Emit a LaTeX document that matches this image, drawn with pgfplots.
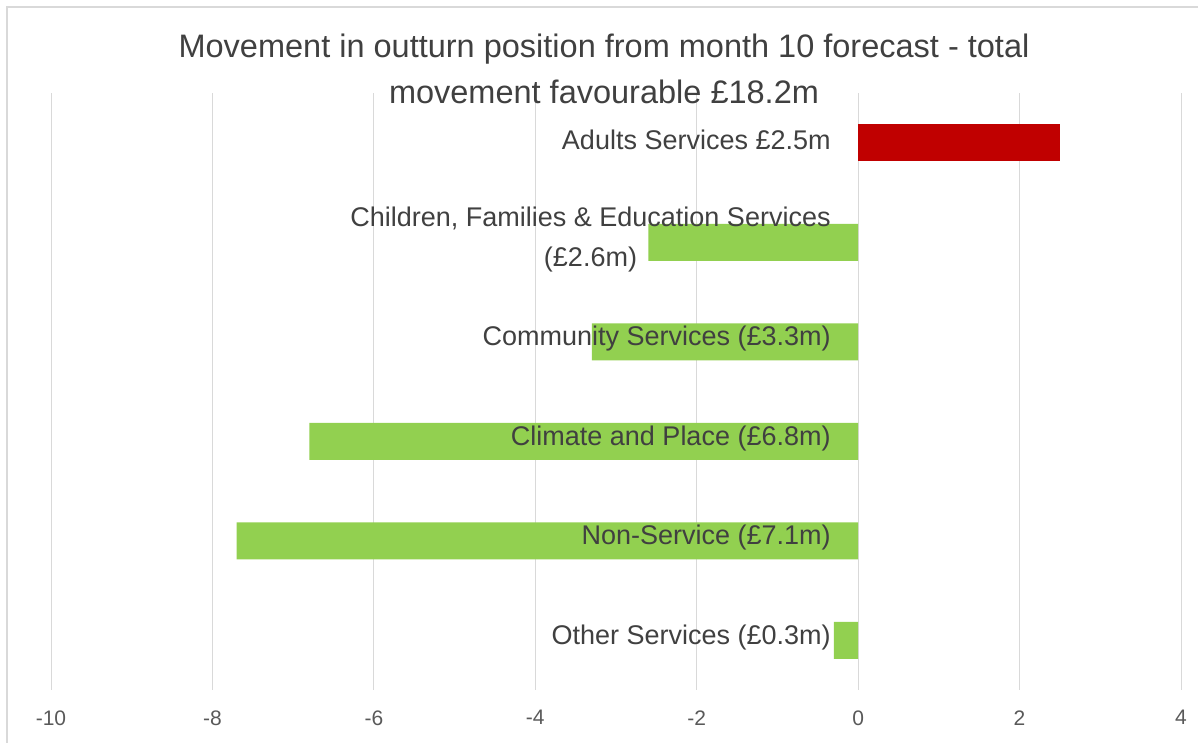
\documentclass[border=0pt]{standalone}
\usepackage{pgfplots}
\pgfplotsset{compat=1.18}
\usepackage{fontspec}
\setmainfont{Liberation Sans}
\definecolor{gridc}{HTML}{D9D9D9}
\definecolor{txt}{HTML}{404040}
\definecolor{tickc}{HTML}{595959}
\definecolor{barred}{HTML}{C00000}
\definecolor{bargreen}{HTML}{92D050}
\begin{document}
\begin{tikzpicture}[x=1pt,y=1pt]
\useasboundingbox (0,0) rectangle (1198,742);
\draw[gridc, line width=1.2pt] (7,-5) -- (7,735) -- (1205,735);
\begin{axis}[at={(51pt,52pt)}, anchor=south west, scale only axis,
  width=1130pt, height=597pt,
  xmin=-10, xmax=4, ymin=-0.5, ymax=5.5, y dir=reverse,
  xtick={-10,-8,...,4}, xticklabels={-10,-8,-6,-4,-2,0,2,4},
  ytick=\empty, xmajorgrids, grid style={gridc, line width=0.8pt},
  axis line style={draw=none}, major tick length=0pt,
  xticklabel style={font=\fontsize{21}{24}\selectfont, text=tickc, yshift=-17pt},
  xbar, bar width=37pt, bar shift=0pt, clip=false]
\addplot[fill=barred, draw=none] coordinates {(2.5,0)};
\addplot[fill=bargreen, draw=none] coordinates {(-2.6,1) (-3.3,2) (-6.8,3) (-7.7,4) (-0.3,5)};
\tikzset{lbl/.style={anchor=east, align=center, font=\fontsize{27}{40}\selectfont, text=txt, xshift=-24pt, yshift=3pt}}
\node[lbl] at (axis cs:0,0) {Adults Services £2.5m};
\node[lbl] at (axis cs:0,1) {Children, Families \& Education Services\\(£2.6m)};
\node[lbl] at (axis cs:0,2) {Community Services (£3.3m)};
\node[lbl] at (axis cs:0,3) {Climate and Place (£6.8m)};
\node[lbl] at (axis cs:0,4) {Non-Service (£7.1m)};
\node[lbl] at (axis cs:0,5) {Other Services (£0.3m)};
\end{axis}
\node[align=center, font=\fontsize{32.5}{46}\selectfont, text=txt] at (604,673)
  {Movement in outturn position from month 10 forecast - total\\movement favourable £18.2m};
\end{tikzpicture}
\end{document}
